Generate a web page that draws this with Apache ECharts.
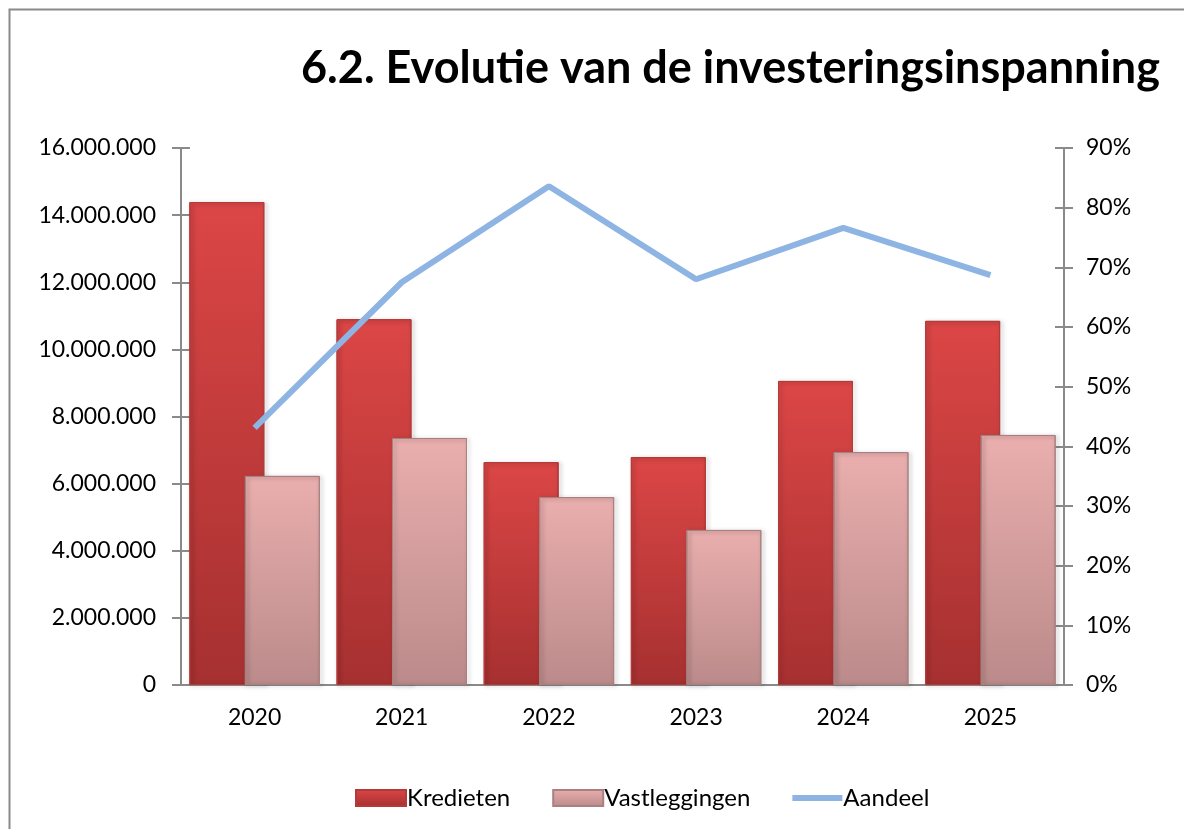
<!DOCTYPE html>
<html>
<head>
<meta charset="utf-8">
<script src="https://cdn.jsdelivr.net/npm/echarts@6/dist/echarts.min.js"></script>
<style>
  html, body { margin: 0; padding: 0; background: #fff; }
  #chart { width: 1184px; height: 829px; }
</style>
</head>
<body>
<div id="chart"></div>
<script>
// jaren
var jaren = ['2020', '2021', '2022', '2023', '2024', '2025'];
// bedragen in euro
var kredieten = [14390000, 10900000, 6640000, 6790000, 9060000, 10850000];
var vastleggingen = [6230000, 7360000, 5600000, 4620000, 6940000, 7450000];
// aandeel in %
var aandeel = [43.1, 67.5, 83.6, 68.0, 76.6, 68.7];

var fontNaam = 'Lato';
var asKleur = '#8a8a8a';

function duizendtal(v) {
    return String(v).replace(/\B(?=(\d{3})+(?!\d))/g, '.');
}

function verloop(boven, onder) {
    return new echarts.graphic.LinearGradient(0, 0, 0, 1, [
        {offset: 0, color: boven},
        {offset: 1, color: onder}
    ]);
}

var grafiek = echarts.init(document.getElementById('chart'));

var optie = {
    backgroundColor: '#fff',
    textStyle: {fontFamily: fontNaam},
    title: {
        text: '6.2. Evolutie van de investeringsinspanning',
        right: 19,
        top: 41,
        textStyle: {
            fontFamily: fontNaam,
            fontSize: 45,
            fontWeight: 'bold',
            color: '#000'
        }
    },
    legend: {
        left: 350,
        top: 781,
        itemWidth: 50,
        itemHeight: 16,
        itemGap: 42,
        textStyle: {fontSize: 24, color: '#000', padding: [0, 0, 0, -4]},
        data: [
            {name: 'Kredieten', icon: 'rect'},
            {name: 'Vastleggingen', icon: 'rect'},
            {name: 'Aandeel', icon: 'path://M0,0 L50,0 L50,6 L0,6 Z'}
        ]
    },
    grid: {left: 181, right: 120, top: 148, bottom: 144},
    xAxis: [
        {
            type: 'category',
            data: jaren,
            axisLine: {lineStyle: {color: asKleur, width: 2}},
            axisTick: {length: 8, lineStyle: {color: asKleur, width: 2}},
            axisLabel: {fontSize: 23, color: '#000', margin: 21}
        },
        {
            type: 'category',
            data: jaren,
            position: 'bottom',
            axisLine: {show: false},
            axisTick: {inside: true, length: 8, lineStyle: {color: asKleur, width: 2}},
            axisLabel: {show: false}
        }
    ],
    yAxis: [
        {
            type: 'value',
            min: 0, max: 16000000, interval: 2000000,
            position: 'left',
            axisLine: {show: true, lineStyle: {color: asKleur, width: 2}},
            axisTick: {show: true, length: 9, lineStyle: {color: asKleur, width: 2}},
            splitLine: {show: false},
            axisLabel: {fontSize: 23, color: '#000', margin: 25, formatter: duizendtal}
        },
        {
            type: 'value',
            min: 0, max: 90, interval: 10,
            position: 'right',
            axisLine: {show: true, lineStyle: {color: asKleur, width: 2}},
            axisTick: {show: true, length: 9, lineStyle: {color: asKleur, width: 2}},
            splitLine: {show: false},
            axisLabel: {fontSize: 23, color: '#000', margin: 22, formatter: '{value}%'}
        },
        {
            type: 'value',
            min: 0, max: 16000000, interval: 2000000,
            position: 'left',
            axisLine: {show: false},
            axisTick: {show: true, inside: true, length: 9, lineStyle: {color: asKleur, width: 2}},
            splitLine: {show: false},
            axisLabel: {show: false}
        },
        {
            type: 'value',
            min: 0, max: 90, interval: 10,
            position: 'right',
            axisLine: {show: false},
            axisTick: {show: true, inside: true, length: 9, lineStyle: {color: asKleur, width: 2}},
            splitLine: {show: false},
            axisLabel: {show: false}
        }
    ],
    series: [
        {
            name: 'Kredieten',
            type: 'bar',
            yAxisIndex: 0,
            barWidth: 75,
            barGap: '-26%',
            data: kredieten,
            itemStyle: {
                color: verloop('#dc4646', '#a63030'),
                borderColor: '#b43a3a',
                borderWidth: 1,
                shadowColor: 'rgba(0,0,0,0.35)',
                shadowBlur: 4,
                shadowOffsetX: 2,
                shadowOffsetY: 1
            }
        },
        {
            name: 'Vastleggingen',
            type: 'bar',
            yAxisIndex: 0,
            barWidth: 75,
            data: vastleggingen,
            itemStyle: {
                color: verloop('#eaaeae', '#bb8a8a'),
                borderColor: '#a88080',
                borderWidth: 1,
                shadowColor: 'rgba(0,0,0,0.35)',
                shadowBlur: 4,
                shadowOffsetX: 2,
                shadowOffsetY: 1
            }
        },
        {
            name: 'Aandeel',
            type: 'line',
            yAxisIndex: 1,
            data: aandeel,
            symbol: 'none',
            z: 5,
            lineStyle: {color: '#8db4e3', width: 6},
            itemStyle: {color: '#8db4e3'}
        }
    ],
    graphic: [
        {
            type: 'rect',
            left: 7, top: 7,
            shape: {width: 1200, height: 840},
            style: {fill: 'none', stroke: '#8a8a8a', lineWidth: 2},
            silent: true,
            z: -1
        }
    ]
};

grafiek.setOption(optie);
</script>
</body>
</html>
